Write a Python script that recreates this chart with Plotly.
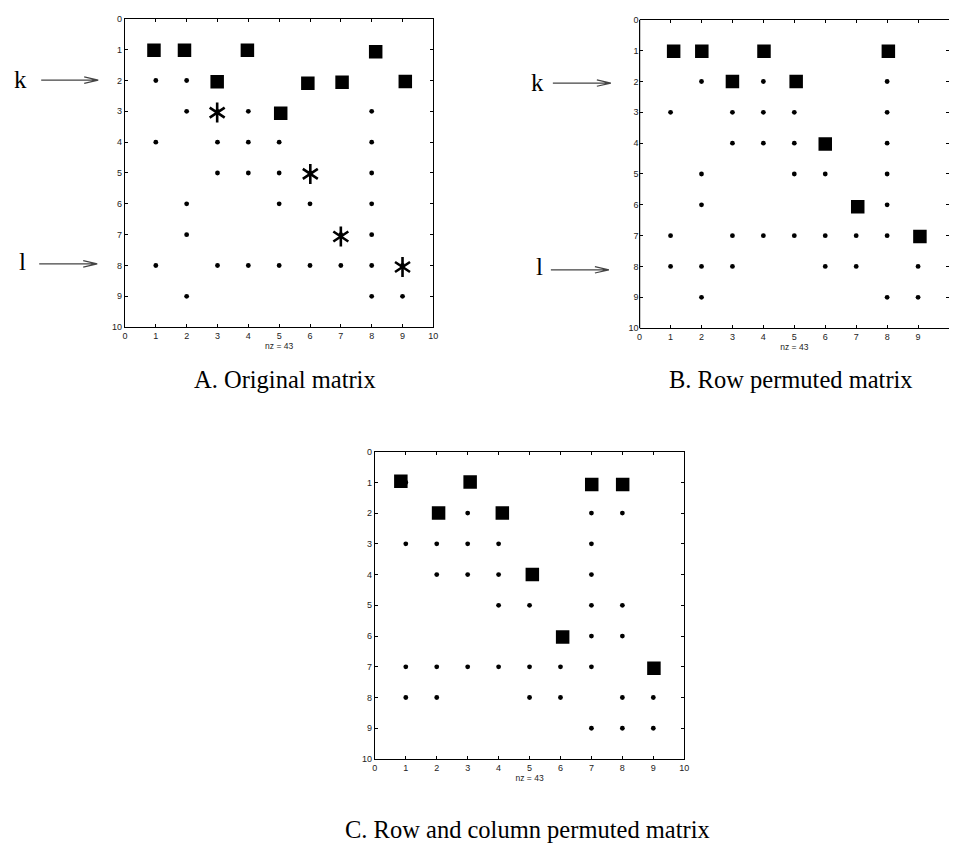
import plotly.graph_objects as go

# ---------------- data ----------------
# nonzero pattern: column indices for rows 1..9
A_pattern = [[1, 2, 4, 8], [1, 2, 3, 6, 7, 9], [2, 3, 4, 5, 8], [1, 3, 4, 5, 8],
             [3, 4, 5, 6, 8], [2, 5, 6, 8], [2, 7, 8], [1, 3, 4, 5, 6, 7, 8, 9], [2, 8, 9]]
B_pattern = [[1, 2, 4, 8], [2, 3, 4, 5, 8], [1, 3, 4, 5, 8], [3, 4, 5, 6, 8],
             [2, 5, 6, 8], [2, 7, 8], [1, 3, 4, 5, 6, 7, 8, 9], [1, 2, 3, 6, 7, 9], [2, 8, 9]]
C_pattern = [[1, 3, 7, 8], [2, 3, 4, 7, 8], [1, 2, 3, 4, 7], [2, 3, 4, 5, 7],
             [4, 5, 7, 8], [6, 7, 8], [1, 2, 3, 4, 5, 6, 7, 9], [1, 2, 5, 6, 8, 9], [7, 8, 9]]

# highlighted entries (squares) as drawn
A_sq_x = [0.94, 1.93, 3.97, 8.13, 2.99, 5.93, 7.04, 9.09, 5.05]
A_sq_y = [1.02, 1.02, 1.02, 1.07, 2.04, 2.09, 2.06, 2.03, 3.06]
A_ast_x = [2.99, 6.01, 7.0, 9.0]
A_ast_y = [3.04, 5.03, 7.06, 8.05]

B_sq_x = [1.10, 2.01, 4.02, 8.04, 3.0, 5.06, 6.0, 7.05, 9.06]
B_sq_y = [1.02, 1.02, 1.02, 1.02, 2.0, 2.0, 4.03, 6.06, 7.03]

C_sq_x = [0.84, 3.08, 7.01, 8.01, 2.06, 4.12, 5.09, 6.07, 9.02]
C_sq_y = [0.96, 0.99, 1.07, 1.07, 2.0, 2.0, 4.0, 6.03, 7.05]

nz_label = "nz = 43"
captions = ["A. Original matrix", "B. Row permuted matrix", "C. Row and column permuted matrix"]
tick_vals = list(range(0, 11))


def expand(pattern):
    xs, ys = [], []
    for r, cols in enumerate(pattern, start=1):
        for c in cols:
            xs.append(c)
            ys.append(r)
    return xs, ys


fig = go.Figure()

panels = [
    ("x", "y", A_pattern, A_sq_x, A_sq_y, A_ast_x, A_ast_y),
    ("x2", "y2", B_pattern, B_sq_x, B_sq_y, None, None),
    ("x3", "y3", C_pattern, C_sq_x, C_sq_y, None, None),
]

for xa, ya, pat, sqx, sqy, asx, asy in panels:
    dx, dy = expand(pat)
    fig.add_trace(go.Scatter(x=dx, y=dy, mode="markers", xaxis=xa, yaxis=ya,
                             marker=dict(symbol="circle", size=4.8, color="black"),
                             showlegend=False, hoverinfo="skip"))
    fig.add_trace(go.Scatter(x=sqx, y=sqy, mode="markers", xaxis=xa, yaxis=ya,
                             marker=dict(symbol="square", size=13.5, color="black",
                                         line=dict(width=0)),
                             showlegend=False, hoverinfo="skip"))
    if asx is not None:
        for sym in ["y-up-open", "y-down-open"]:
            fig.add_trace(go.Scatter(x=asx, y=asy, mode="markers", xaxis=xa, yaxis=ya,
                                     marker=dict(symbol=sym, size=12.5, color="black",
                                                 line=dict(width=2.6, color="black")),
                                     showlegend=False, hoverinfo="skip"))

tickfont = dict(family="Liberation Sans, Arial, sans-serif", size=9, color="#222")


def xaxis(domain, anchor):
    return dict(domain=domain, anchor=anchor, range=[0, 10], tickvals=tick_vals,
                ticks="inside", ticklen=3, tickcolor="black", tickwidth=1,
                showline=True, linecolor="black", linewidth=1.2, mirror="ticks",
                showgrid=False, zeroline=False, tickfont=tickfont,
                title=dict(text=nz_label, font=dict(family="Liberation Sans, Arial", size=8.5,
                                                    color="#222"), standoff=1))


def yaxis(domain, anchor, showline=True):
    return dict(domain=domain, anchor=anchor, range=[10, 0], tickvals=tick_vals,
                ticks="inside", ticklen=3, tickcolor="black", tickwidth=1,
                showline=showline, linecolor="black", linewidth=1.2, mirror="ticks",
                showgrid=False, zeroline=False, tickfont=tickfont)


W, H = 954, 846


def px_x(p):
    return p / W


def px_y(p):
    return 1 - p / H


fig.update_layout(
    width=W, height=H, margin=dict(l=0, r=0, t=0, b=0),
    paper_bgcolor="white", plot_bgcolor="white",
    xaxis=xaxis([px_x(123), px_x(434)], "y"),
    yaxis=yaxis([px_y(326), px_y(14)], "x"),
    xaxis2=xaxis([px_x(642), 1.0], "y2"),
    yaxis2=yaxis([px_y(327), px_y(15)], "x2", showline=False),
    xaxis3=xaxis([px_x(375), px_x(687)], "y3"),
    yaxis3=yaxis([px_y(763), px_y(452)], "x3"),
)

serif = "Liberation Serif, Times New Roman, serif"
ann = []
for text, cx, cy in [(captions[0], 284, 379), (captions[1], 795, 379), (captions[2], 528.5, 834)]:
    ann.append(dict(text=text, x=px_x(cx), y=px_y(cy), xref="paper", yref="paper",
                    showarrow=False, xanchor="center", yanchor="middle",
                    font=dict(family=serif, size=24.5, color="black")))
for text, cx, cy in [("k", 18, 75), ("l", 20, 260), ("k", 539, 78), ("l", 541, 265)]:
    ann.append(dict(text=text, x=px_x(cx), y=px_y(cy), xref="paper", yref="paper",
                    showarrow=False, xanchor="center", yanchor="middle",
                    font=dict(family=serif, size=25, color="black")))
fig.update_layout(annotations=ann)

shapes = []
for hx, hy, length in [(96, 76, 57), (95, 262, 58), (613, 79, 58), (611, 268, 58)]:
    shapes.append(dict(type="path", xref="paper", yref="paper",
                       xsizemode="pixel", ysizemode="pixel",
                       xanchor=px_x(hx), yanchor=px_y(hy),
                       path=f"M{-length},0 L0,0 M-14,-3.2 L0,0 L-14,3.2",
                       line=dict(color="#444", width=1.2)))
# left spine of panel B (its right spine falls outside the page in the original)
shapes.append(dict(type="line", xref="x2 domain", yref="y2 domain", x0=0, x1=0, y0=0, y1=1,
                   line=dict(color="black", width=1.2)))
fig.update_layout(shapes=shapes)

fig.write_html("out.html")
